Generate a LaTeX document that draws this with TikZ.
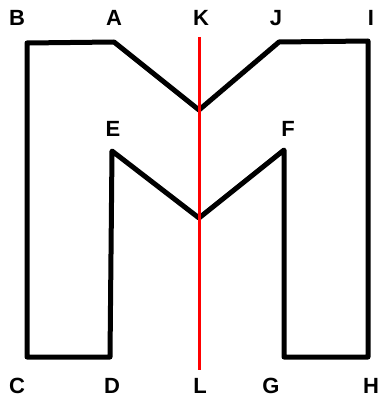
\documentclass[tikz,border=0pt]{standalone}
\usepackage{fontspec}
\setmainfont{Liberation Sans}
\begin{document}
\begin{tikzpicture}[x=1pt,y=-1pt,
  lbl/.style={font=\fontsize{22}{22}\selectfont\bfseries, inner sep=0pt, anchor=center},
  outline/.style={draw=black, line width=5pt, line join=round, line cap=round},
  axis/.style={draw=red, line width=3pt}]
\useasboundingbox (0,0) rectangle (381,401);
% vertices
\coordinate (B) at (27,43);
\coordinate (A) at (114,42);
\coordinate (M1) at (199,110);
\coordinate (J) at (279,42);
\coordinate (I) at (368,41);
\coordinate (H) at (368,357);
\coordinate (G) at (284,357);
\coordinate (F) at (284,150);
\coordinate (M2) at (199,218);
\coordinate (E) at (112,151);
\coordinate (D) at (110,357);
\coordinate (C) at (27,357);
\coordinate (K) at (199,37);
\coordinate (L) at (199,370);
% outline
\draw[outline] (B) -- (A) -- (M1) -- (J) -- (I) -- (H) -- (G) -- (F) -- (M2) -- (E) -- (D) -- (C) -- cycle;
% axis
\draw[axis] (K) -- (L);
% labels
\node[lbl] (lB) at (17,18) {B};
\node[lbl] (lA) at (114,18) {A};
\node[lbl] (lK) at (201,18) {K};
\node[lbl] (lJ) at (276,18) {J};
\node[lbl] (lI) at (371,18) {I};
\node[lbl] (lE) at (113,129) {E};
\node[lbl] (lF) at (288,129) {F};
\node[lbl] (lC) at (17,386) {C};
\node[lbl] (lD) at (112,386) {D};
\node[lbl] (lL) at (200,386) {L};
\node[lbl] (lG) at (271,386) {G};
\node[lbl] (lH) at (371,386) {H};
\end{tikzpicture}
\end{document}
